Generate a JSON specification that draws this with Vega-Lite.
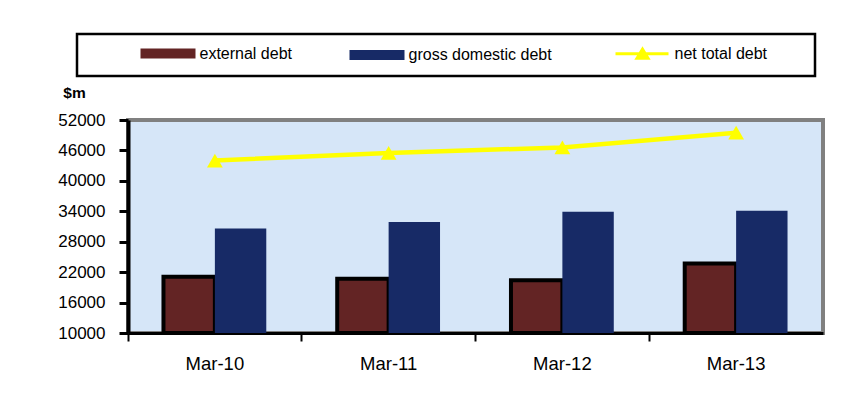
{
  "$schema": "https://vega.github.io/schema/vega-lite/v6.json",
  "width": 695,
  "height": 213,
  "autosize": {"type": "none"},
  "padding": {"left": 128, "top": 120, "right": 34, "bottom": 73},
  "background": "white",
  "config": {
    "view": {"fill": "#d6e6f8", "stroke": "#808080", "strokeWidth": 4},
    "font": "Liberation Sans"
  },
  "data": {
    "values": [
      {"date": "Mar-10", "series": "external debt", "value": 21100},
      {"date": "Mar-11", "series": "external debt", "value": 20700},
      {"date": "Mar-12", "series": "external debt", "value": 20400},
      {"date": "Mar-13", "series": "external debt", "value": 23700},
      {"date": "Mar-10", "series": "gross domestic debt", "value": 30600},
      {"date": "Mar-11", "series": "gross domestic debt", "value": 31900},
      {"date": "Mar-12", "series": "gross domestic debt", "value": 33900},
      {"date": "Mar-13", "series": "gross domestic debt", "value": 34100},
      {"date": "Mar-10", "series": "net total debt", "value": 44000},
      {"date": "Mar-11", "series": "net total debt", "value": 45500},
      {"date": "Mar-12", "series": "net total debt", "value": 46600},
      {"date": "Mar-13", "series": "net total debt", "value": 49500}
    ]
  },
  "encoding": {
    "x": {
      "field": "date",
      "type": "nominal",
      "sort": null,
      "scale": {"paddingInner": 0, "paddingOuter": 0},
      "axis": {
        "title": null,
        "bandPosition": 0,
        "labelAngle": 0,
        "domainColor": "black",
        "domainWidth": 3,
        "tickColor": "black",
        "tickWidth": 2,
        "tickSize": 8,
        "labelFontSize": 18.5,
        "labelColor": "black",
        "labelPadding": 13
      }
    },
    "y": {
      "field": "value",
      "type": "quantitative",
      "scale": {"domain": [10000, 52000], "nice": false, "zero": false},
      "axis": {
        "values": [10000, 16000, 22000, 28000, 34000, 40000, 46000, 52000],
        "format": "d",
        "grid": false,
        "domainColor": "black",
        "domainWidth": 4,
        "tickColor": "black",
        "tickWidth": 3,
        "tickSize": 9,
        "labelFontSize": 17,
        "labelColor": "black",
        "labelPadding": 14,
        "title": "$m",
        "titleAngle": 0,
        "titleFontSize": 15.5,
        "titleFontWeight": "bold",
        "titleColor": "black",
        "titleX": -54,
        "titleY": -28,
        "titleAlign": "center",
        "titleBaseline": "middle"
      }
    },
    "color": {
      "field": "series",
      "type": "nominal",
      "scale": {
        "domain": ["external debt", "gross domestic debt", "net total debt"],
        "range": ["#632424", "#172a66", "#ffff00"]
      },
      "legend": {
        "orient": "none",
        "legendX": -51,
        "legendY": -86,
        "direction": "horizontal",
        "title": "\u00a0",
        "titleOrient": "left",
        "titlePadding": 54,
        "titleFontSize": 15,
        "padding": 11.5,
        "strokeColor": "black",
        "fillColor": "white",
        "columnPadding": 57,
        "labelFontSize": 16,
        "labelColor": "black",
        "labelOffset": 41,
        "labelLimit": 300,
        "symbolSize": 400,
        "labelExpr": "datum.label == 'net total debt' ? datum.label + '\u2800\u2800\u2800' : datum.label",
        "encode": {
          "legend": {"update": {"strokeWidth": {"value": 2.5}}},
          "symbols": {
            "update": {
              "shape": {"signal": "datum.value == 'external debt' ? 'M-0.8,-0.3H4.3V0.3H-0.8Z' : datum.value == 'gross domestic debt' ? 'M-1,-0.5H4.5V0.5H-1Z' : 'M-1,0H4.3M1.15,0.45L1.7,-0.45L2.25,0.45Z'"},
              "fill": {"signal": "datum.value == 'external debt' ? '#632424' : datum.value == 'gross domestic debt' ? '#172a66' : '#ffff00'"},
              "stroke": {"signal": "datum.value == 'external debt' ? 'black' : datum.value == 'gross domestic debt' ? '#172a66' : '#ffff00'"},
              "strokeWidth": {"signal": "datum.value == 'external debt' ? 4 : datum.value == 'gross domestic debt' ? 0 : 3"},
              "opacity": {"value": 1}
            }
          }
        }
      }
    }
  },
  "layer": [
    {
      "transform": [{"filter": "datum.series == 'external debt'"}],
      "mark": {"type": "bar", "stroke": "black", "strokeWidth": 4},
      "encoding": {
        "xOffset": {"field": "series", "scale": {"domain": ["external debt", "gross domestic debt"], "paddingOuter": 0.69, "paddingInner": 0}},
        "y2": {"datum": 10000}
      }
    },
    {
      "transform": [{"filter": "datum.series == 'gross domestic debt'"}],
      "mark": {"type": "bar", "strokeWidth": 0},
      "encoding": {
        "xOffset": {"field": "series", "scale": {"domain": ["external debt", "gross domestic debt"], "paddingOuter": 0.69, "paddingInner": 0}},
        "y2": {"datum": 10000}
      }
    },
    {
      "transform": [{"filter": "datum.series == 'net total debt'"}],
      "mark": {"type": "line", "strokeWidth": 4.5, "point": {"shape": "triangle-up", "size": 250, "filled": true, "opacity": 1}},
      "encoding": {}
    }
  ]
}
